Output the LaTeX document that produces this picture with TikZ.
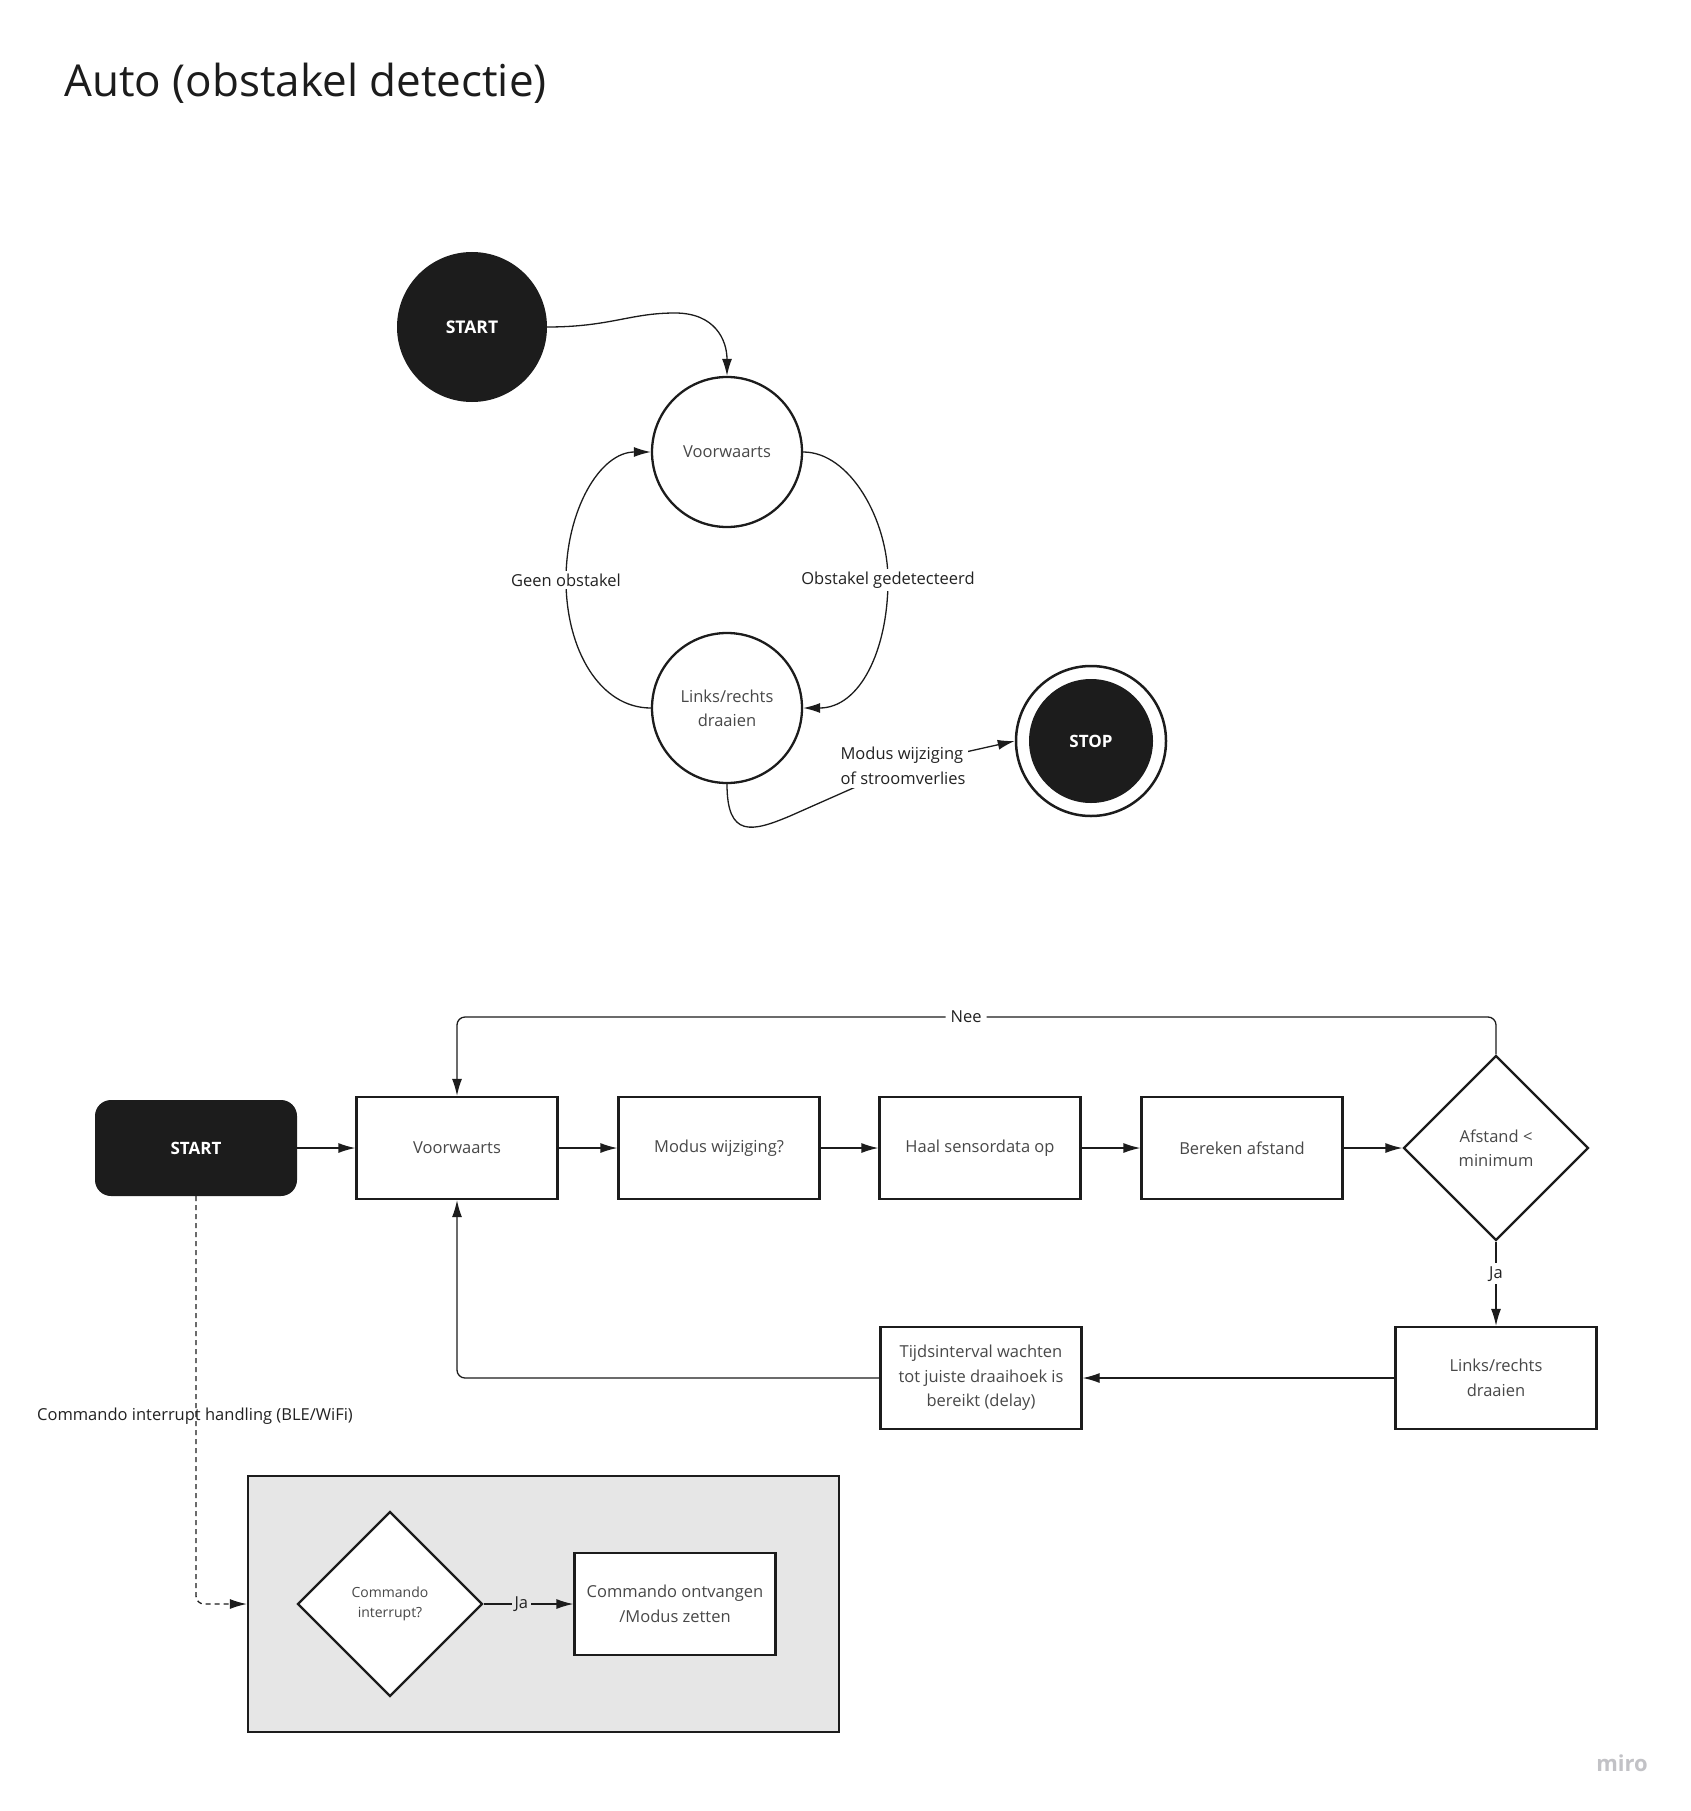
\documentclass[tikz,border=0pt]{standalone}
\usepackage{fontspec}
\setmainfont{Open Sans}
\usetikzlibrary{shapes.geometric,arrows.meta}
\definecolor{ink}{HTML}{1C1C1C}
\definecolor{txt}{HTML}{484848}
\definecolor{lbl}{HTML}{222222}
\definecolor{grp}{HTML}{E6E6E6}
\definecolor{mirocol}{HTML}{C2C2C6}
\begin{document}
\begin{tikzpicture}[x=1pt,y=-1pt,
  every node/.style={font=\fontsize{16.5}{24}\selectfont, text=txt},
  state/.style={circle, draw=ink, line width=2.3pt, fill=white, minimum size=150pt, inner sep=0pt, align=center},
  term/.style={circle, fill=ink, minimum size=150pt, inner sep=0pt, text=white, font=\bfseries\fontsize{17.5}{20}\selectfont},
  stepbox/.style={rectangle, draw=ink, line width=2.3pt, fill=white, minimum width=201pt, minimum height=102pt, inner sep=2pt, align=center, font=\fontsize{16.5}{24.5}\selectfont},
  startbox/.style={rectangle, rounded corners=16pt, fill=ink, minimum width=202pt, minimum height=96pt, text=white, font=\bfseries\fontsize{17}{20}\selectfont},
  dec/.style={diamond, aspect=1, draw=ink, line width=2.3pt, fill=white, minimum width=185pt, minimum height=185pt, inner sep=0pt, align=center, font=\fontsize{16.5}{24}\selectfont},
  conn/.style={draw=ink, line width=1.3pt, -{Latex[length=17pt,width=10pt]}},
  lab/.style={fill=white, inner xsep=5pt, inner ysep=3pt, text=lbl, font=\fontsize{16.5}{25}\selectfont}
]
\useasboundingbox (0,0) rectangle (1690,1811);
\fill[white] (0,0) rectangle (1690,1811);

% title
\node[anchor=base west, inner sep=0pt, text=ink, font=\fontsize{44}{52}\selectfont] (title) at (64,97) {Auto (obstakel detectie)};

% ---------- state diagram ----------
\node[term] (s1) at (472,327) {START};
\node[state] (v1) at (727,452) {Voorwaarts};
\node[state] (l1) at (727,708) {Links/rechts\\draaien};
\node[circle, draw=ink, line width=2.5pt, fill=white, minimum size=150pt, inner sep=0pt] (stop) at (1091,741) {};
\node[circle, fill=ink, minimum size=124pt, inner sep=0pt, text=white, font=\bfseries\fontsize{17}{20}\selectfont] (stopin) at (stop) {STOP};

\draw[conn] (s1.east) .. controls (610,327) and (630,313) .. (675,313)
  .. controls (715,313) and (727,340) .. (v1.north);
\draw[conn] (v1.east) .. controls (850,452) and (888,520) .. (888,580)
  node[lab, inner xsep=2pt] (odl) {Obstakel gedetecteerd}
  .. controls (888,650) and (860,708) .. (l1.east);
\draw[conn] (l1.west) .. controls (600,708) and (566,650) .. (566,580)
  node[lab, inner xsep=2pt] (gol) {Geen obstakel}
  .. controls (566,510) and (600,452) .. (v1.west);
\draw[conn] (l1.south) .. controls (727,838) and (752,832) .. (790,816)
  -- (903,766) node[lab, inner xsep=3pt, align=left] (mwl) {Modus wijziging\\of stroomverlies}
  -- (stop.west);

% ---------- flowchart ----------
\node[startbox] (s2) at (196,1148) {START};
\node[stepbox] (v2) at (457,1148) {Voorwaarts};
\node[stepbox] (m2) at (719,1148) {Modus wijziging?};
\node[stepbox] (h2) at (980,1148) {Haal sensordata op};
\node[stepbox] (b2) at (1242,1148) {Bereken afstand};
\node[dec] (d2) at (1496,1148) {Afstand <\\minimum};
\node[stepbox] (l2) at (1496,1378) {Links/rechts\\draaien};
\node[stepbox] (t2) at (981,1378) {Tijdsinterval wachten\\tot juiste draaihoek is\\bereikt (delay)};

\node[rectangle, draw=ink, line width=2.3pt, fill=grp, minimum width=591pt, minimum height=256pt] (g) at (543.5,1604) {};
\node[dec, font=\fontsize{14}{19.5}\selectfont] (c2) at (390,1604) {Commando\\interrupt?};
\node[stepbox] (r2) at (675,1604) {Commando ontvangen\\/Modus zetten};

\draw[conn] (s2.east) -- (v2.west);
\draw[conn] (v2.east) -- (m2.west);
\draw[conn] (m2.east) -- (h2.west);
\draw[conn] (h2.east) -- (b2.west);
\draw[conn] (b2.east) -- (d2.west);
\draw[conn, rounded corners=8pt] (d2.north) -- (1496,1017) -- node[lab, pos=0.51] (neel) {Nee} (457,1017) -- (v2.north);
\draw[conn] (d2.south) -- node[lab, pos=0.38] (jal) {Ja} (l2.north);
\draw[conn] (l2.west) -- (t2.east);
\draw[conn, rounded corners=8pt] (t2.west) -| (v2.south);
\draw[conn, dashed, dash pattern=on 5pt off 4pt, rounded corners=8pt] (s2.south) |- (g.west);
\node[text=lbl] (cmdl) at (195,1416) {Commando interrupt handling (BLE/WiFi)};
\draw[conn] (c2.east) -- node[lab, fill=grp, inner xsep=3pt, pos=0.42] (ja2) {Ja} (r2.west);

\node[text=mirocol, font=\bfseries\fontsize{22}{26}\selectfont] (logo) at (1622,1763) {miro};
\end{tikzpicture}
\end{document}
